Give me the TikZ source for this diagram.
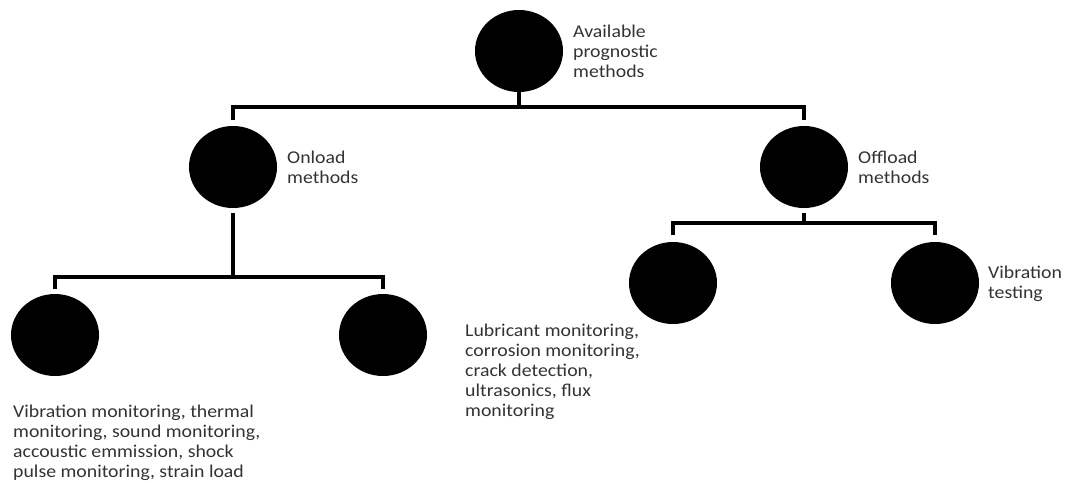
\documentclass[tikz,border=0pt]{standalone}
\usepackage{fontspec}
\setmainfont{Carlito}[FakeStretch=1.1]
\usetikzlibrary{shapes.geometric, positioning}

\begin{document}
\begin{tikzpicture}[x=1pt, y=-1pt]

\tikzset{vertex/.style = {shape=ellipse, fill=black, minimum width=88pt, minimum height=82pt, inner sep=0pt, outer sep=0pt}}
\tikzset{edge/.style = {line width=3.5pt}}
\tikzset{caption/.style = {align=left, inner sep=0pt, font=\fontsize{18}{20}\selectfont, text=black!80}}

\useasboundingbox (0,0) rectangle (1065,482);
%vertices
\node[vertex] (root) at (519,51) {};
\node[vertex] (onload) at (233,167) {};
\node[vertex] (offload) at (804,167) {};
\node[vertex] (vibmon) at (55,335) {};
\node[vertex] (other) at (383,335) {};
\node[vertex] (lubric) at (673,283) {};
\node[vertex] (vibtest) at (935,283) {};
%labels
\node[caption, right=10pt of root] (rootlbl) {Available\\prognostic\\methods};
\node[caption, right=10pt of onload] (onloadlbl) {Onload\\methods};
\node[caption, right=10pt of offload] (offloadlbl) {Offload\\methods};
\node[caption, right=9pt of vibtest, yshift=-1pt] (vibtestlbl) {Vibration\\testing};
\node[caption, anchor=north west] (vibmonlbl) at (13,405) {Vibration monitoring, thermal\\monitoring, sound monitoring,\\accoustic emmission, shock\\pulse monitoring, strain load};
\node[caption, anchor=north west] (lubriclbl) at (465,324) {Lubricant monitoring,\\corrosion monitoring,\\crack detection,\\ultrasonics, flux\\monitoring};
%edges
\coordinate (bartop) at (519,107);
\coordinate (baron) at (233,277);
\coordinate (baroff) at (804,223);
\draw[edge] (root.south) -- (bartop);
\draw[edge, shorten <=6pt, shorten >=6pt] (onload.north) |- (bartop) -| (offload.north);
\draw[edge, shorten <=5pt] (onload.south) -- (baron);
\draw[edge, shorten <=5pt, shorten >=5pt] (vibmon.north) |- (baron) -| (other.north);
\draw[edge, shorten <=5pt] (offload.south) -- (baroff);
\draw[edge, shorten <=7pt, shorten >=7pt] (lubric.north) |- (baroff) -| (vibtest.north);

\end{tikzpicture}
\end{document}
